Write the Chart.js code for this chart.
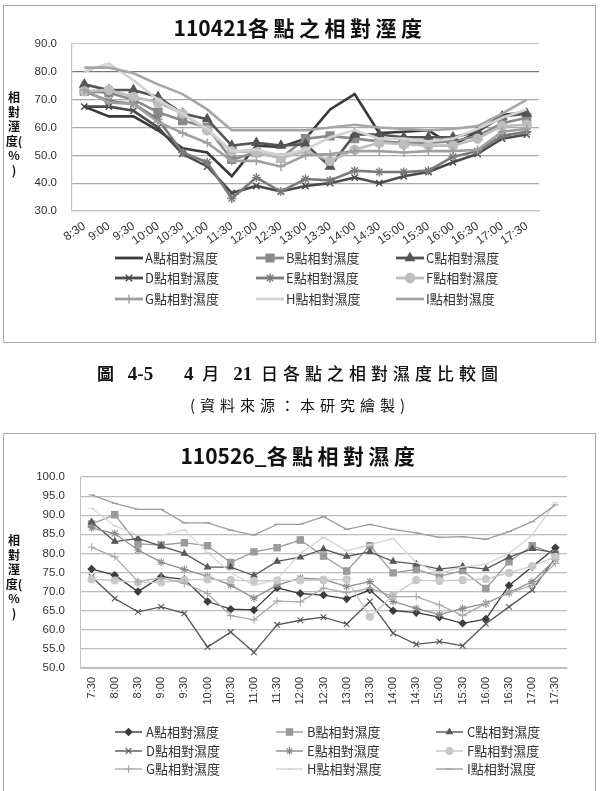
<!DOCTYPE html>
<html><head><meta charset="utf-8">
<script src="https://cdn.jsdelivr.net/npm/chart.js@4.4.1/dist/chart.umd.min.js"></script>
<style>
html,body{margin:0;padding:0;background:#fff;}
body{width:600px;height:791px;position:relative;overflow:hidden;font-family:"Noto Sans CJK TC","Noto Sans",sans-serif;}
.box{position:absolute;border:1px solid #a8a8a8;box-sizing:border-box;background:#fff;}
canvas{position:absolute;left:0;}
.title{position:absolute;left:0;width:600px;text-align:center;font-weight:bold;font-size:21px;line-height:24px;color:#111;white-space:nowrap;}
.title .cj{letter-spacing:4.5px;}
.ytitle{position:absolute;left:4px;width:20px;text-align:center;font-weight:bold;font-size:12px;line-height:14.5px;color:#111;white-space:nowrap;}
.cap{position:absolute;left:0;width:600px;text-align:center;white-space:pre;color:#111;}
.cap .n{font-family:"Liberation Serif",serif;font-weight:bold;letter-spacing:0;font-size:19px;}
</style></head>
<body>
<div class="box" style="left:3px;top:5px;width:593px;height:338px"></div>
<div class="box" style="left:3px;top:433px;width:593px;height:400px"></div>
<canvas id="c1" width="600" height="350" style="top:0;width:600px;height:350px"></canvas>
<canvas id="c2" width="600" height="371" style="top:420px;width:600px;height:371px"></canvas>
<div class="title" style="top:15px">110421<span class="cj">各點之相對溼度</span></div>
<div class="title" style="top:443px">110526_<span class="cj">各點相對濕度</span></div>
<div class="ytitle" style="top:90px">相<br>對<br>溼<br>度(<br>%<br>)</div>
<div class="ytitle" style="top:533px">相<br>對<br>溼<br>度(<br>%<br>)</div>
<div class="cap" style="top:361px;font-size:17px;line-height:24px;letter-spacing:5px;font-weight:500"><b>圖</b> <span class="n">4-5</span>　 <span class="n">4</span> 月 <span class="n">21</span> 日各點之相對濕度比較圖</div>
<div class="cap" style="top:394px;font-size:15px;line-height:22px;letter-spacing:5px;">(資料來源：本研究繪製)</div>
<script>
// ---- data ----
const times1 = ['8:30','9:00','9:30','10:00','10:30','11:00','11:30','12:00','12:30','13:00','13:30','14:00','14:30','15:00','15:30','16:00','16:30','17:00','17:30'];
const times2 = ['7:30','8:00','8:30','9:00','9:30','10:00','10:30','11:00','11:30','12:00','12:30','13:00','13:30','14:00','14:30','15:00','15:30','16:00','16:30','17:00','17:30'];
const seriesLabels = ['A點相對濕度','B點相對濕度','C點相對濕度','D點相對濕度','E點相對濕度','F點相對濕度','G點相對濕度','H點相對濕度','I點相對濕度'];
const yTicks1 = [30,40,50,60,70,80,90];
const yTicks2 = [50,55,60,65,70,75,80,85,90,95,100];

// 110421
const a1 = [67.5,64,64,59,52.5,51,42.5,53.5,53,56,66.5,72,58,58.5,59,53.5,58.5,64.5,65.5];
const b1 = [73,72.5,70,65.5,62.5,60,48.5,51,49,56,57,56,55,54.5,54.5,55,57,61.5,63.5];
const c1 = [75.5,73.5,73.5,71,65,63,53.5,54.5,53.5,54,46,57.5,57.5,56.5,56.5,56.5,58.5,64,65];
const d1 = [67.5,67.5,66,60,50.5,46,36.5,39,37,39,40,42,40,42.5,44,47.5,50.5,56,57.5];
const e1 = [73,69.5,68.5,63,51,47.5,34.5,42,37,41.5,41,44.5,44,44,44.5,49.5,51.5,57,58.5];
const f1 = [73,73.5,71,69,65,59,51.5,51,49,51.5,48,52,54.5,54,53.5,53.5,56,60.5,61];
const g1 = [73.5,69,68.5,62,58,54.5,48,48,46,50,50.5,51.5,51.5,51,51.5,51.5,52,58.5,59.5];
const h1 = [80,83,77,70,65,59.5,51.5,52,50,52,56.5,59,56,56,55,56,59.5,63.5,66.5];
const i1 = [81.5,81.5,79.5,75.5,72,66.5,59,59,59,59,60,61,60,59.5,59,59.5,60.5,65,70];

// 110526
const a2 = [75.9,74.3,70.0,73.9,73.2,67.4,65.4,65.2,71.0,69.5,69.1,68.1,70.4,65.0,64.5,63.3,61.7,62.8,71.6,76.5,81.5];
const b2 = [87.7,90.1,82.5,82.2,82.8,82.0,77.6,80.4,81.5,83.5,79.3,75.4,82.0,74.9,75.8,74.0,75.5,70.8,77.8,82.0,79.8];
const c2 = [88.2,83.1,83.9,81.9,80.0,76.4,76.4,74.2,77.9,79.0,81.1,79.2,80.4,77.9,77.2,75.9,76.6,75.9,79.0,81.2,80.2];
const d2 = [73.9,68.2,64.7,66.0,64.3,55.5,59.4,54.1,61.3,62.5,63.3,61.5,67.4,59.1,56.2,56.9,55.8,61.6,66.0,70.4,78.9];
const e2 = [86.7,85.2,80.9,77.7,75.8,74.0,71.7,68.3,71.7,73.5,73.2,71.3,72.6,67.4,65.6,64.0,65.6,66.9,69.7,72.6,78.4];
const f2 = [73.2,72.9,72.4,72.4,73.0,73.2,73.0,72.8,72.9,72.9,73.0,73.2,63.4,69.0,73.0,72.8,73.0,73.3,74.9,76.7,79.1];
const g2 = [81.6,79.1,72.6,73.6,72.2,69.5,63.7,62.6,67.5,67.3,70.9,69.7,70.9,68.7,68.7,66.5,63.7,66.9,69.7,71.6,77.4];
const h2 = [91.8,87.2,84.8,84.8,86.1,80.2,75.0,71.6,73.2,80.0,84.2,80.7,82.2,83.9,77.6,74.8,76.5,77.2,80.0,84.8,93.3];
const i2 = [95.3,93.1,91.5,91.5,88.0,88.0,86.1,84.8,87.6,87.6,89.6,86.3,87.6,86.3,85.4,84.2,84.4,83.7,85.7,88.3,92.7];

// ---- styles ----
const styles1 = [
  {color:'#3a3a3a', style:'circle',  r:0},
  {color:'#8a8a8a', style:'rect',    r:5.5},
  {color:'#555555', style:'triangle',r:5},
  {color:'#4a4a4a', style:'crossRot',r:4.5},
  {color:'#7a7a7a', style:'star',    r:4.5},
  {color:'#bdbdbd', style:'circle',  r:4.5},
  {color:'#a0a0a0', style:'cross',   r:4.5},
  {color:'#d2d2d2', style:'circle',  r:0},
  {color:'#a6a6a6', style:'circle',  r:0}
];
const styles2 = [
  {color:'#3c3c3c', style:'rectRot', r:3.5},
  {color:'#9a9a9a', style:'rect',    r:4.5},
  {color:'#585858', style:'triangle',r:3.5},
  {color:'#555555', style:'crossRot',r:4},
  {color:'#8c8c8c', style:'star',    r:4},
  {color:'#c8c8c8', style:'circle',  r:3.5},
  {color:'#aaaaaa', style:'cross',   r:4},
  {color:'#d5d5d5', style:'line',    r:3},
  {color:'#9c9c9c', style:'line',    r:3}
];

function drawMarker(ctx, style, x, y, r, color, bw){
  if (!r) return;
  ctx.save();
  ctx.fillStyle = color; ctx.strokeStyle = color; ctx.lineWidth = bw;
  if (Chart.helpers && Chart.helpers.drawPoint) {
    Chart.helpers.drawPoint(ctx, {pointStyle: style, radius: r, rotation: 0, borderWidth: bw}, x, y);
  }
  ctx.restore();
}

const legendGrid = {
  id: 'legendGrid',
  afterDraw(chart, args, o) {
    const ctx = chart.ctx;
    ctx.save();
    chart.data.datasets.forEach((ds, k) => {
      const x = o.cols[k % 3], y = o.rows[Math.floor(k / 3)];
      ctx.strokeStyle = ds.borderColor; ctx.lineWidth = o.lineWidth;
      ctx.beginPath(); ctx.moveTo(x, y); ctx.lineTo(x + o.sample, y); ctx.stroke();
      drawMarker(ctx, ds.pointStyle, x + o.sample / 2, y, ds.pointRadius, ds.borderColor, ds.pointBorderWidth);
      ctx.fillStyle = o.color; ctx.font = o.font; ctx.textBaseline = 'middle'; ctx.textAlign = 'left';
      ctx.fillText(ds.label, x + o.sample + o.gap, y + 0.5);
    });
    ctx.restore();
  }
};

function makeDatasets(values, styles, lw, pbw){
  return values.map((v, k) => ({
    label: seriesLabels[k], data: v,
    borderColor: styles[k].color, backgroundColor: styles[k].color,
    pointBackgroundColor: styles[k].color, pointBorderColor: styles[k].color,
    borderWidth: lw, pointStyle: styles[k].style, pointRadius: styles[k].r,
    pointBorderWidth: pbw, tension: 0, fill: false, order: values.length - 1 - k
  }));
}

const tickFont = {family: '"Liberation Sans", Arial, sans-serif', size: 11.5};

new Chart(document.getElementById('c1'), {
  type: 'line',
  data: {labels: times1, datasets: makeDatasets([a1,b1,c1,d1,e1,f1,g1,h1,i1], styles1, 2.6, 1.4)},
  options: {
    responsive: false, animation: false, devicePixelRatio: 1,
    layout: {padding: {top: 44, left: 0, right: 61, bottom: 0}},
    plugins: {legend: {display: false}, tooltip: {enabled: false},
      legendGrid: {cols: [115, 256, 396], rows: [258, 278, 299], sample: 28, gap: 2, lineWidth: 2.8,
        font: '13px "Noto Sans CJK TC"', color: '#333'}},
    scales: {
      x: {type: 'category', offset: true,
        grid: {display: false, drawTicks: false},
        border: {display: true, color: '#c4c4c4', width: 1.2},
        ticks: {autoSkip: false, minRotation: 35, maxRotation: 35, padding: 8, color: '#333',
          font: {family: tickFont.family, size: 12}},
        afterFit(s){ s.height = 139; }},
      y: {min: 30, max: 90,
        afterBuildTicks(s){ s.ticks = yTicks1.map(v => ({value: v})); },
        grid: {drawTicks: false, lineWidth: 1.3,
          color: c => c.tick.value === 80 ? '#7a7a7a' : (c.tick.value === 90 || c.tick.value === 30 ? '#cfcfcf' : '#a8a8a8')},
        border: {display: true, color: '#c4c4c4', width: 1.2},
        ticks: {padding: 15, color: '#333', font: tickFont, callback: v => Number(v).toFixed(1)},
        afterFit(s){ s.width = 72; }}
    }
  },
  plugins: [legendGrid]
});

new Chart(document.getElementById('c2'), {
  type: 'line',
  data: {labels: times2, datasets: makeDatasets([a2,b2,c2,d2,e2,f2,g2,h2,i2], styles2, 1.3, 1.1)},
  options: {
    responsive: false, animation: false, devicePixelRatio: 1,
    layout: {padding: {top: 57, left: 0, right: 33, bottom: 0}},
    plugins: {legend: {display: false}, tooltip: {enabled: false},
      legendGrid: {cols: [115, 276, 436], rows: [312, 331, 349], sample: 27, gap: 4, lineWidth: 1.4,
        font: '13px "Noto Sans CJK TC"', color: '#333'}},
    scales: {
      x: {type: 'category', offset: true,
        grid: {display: false, drawTicks: false},
        border: {display: true, color: '#c4c4c4', width: 1},
        ticks: {autoSkip: false, minRotation: 90, maxRotation: 90, padding: 9, color: '#333',
          font: {family: tickFont.family, size: 11}},
        afterFit(s){ s.height = 123; }},
      y: {min: 50, max: 100,
        afterBuildTicks(s){ s.ticks = yTicks2.map(v => ({value: v})); },
        grid: {drawTicks: false, lineWidth: 1.2, color: '#bdbdbd'},
        border: {display: true, color: '#c4c4c4', width: 1},
        ticks: {padding: 15, color: '#333', font: tickFont, callback: v => Number(v).toFixed(1)},
        afterFit(s){ s.width = 80; }}
    }
  },
  plugins: [legendGrid]
});
</script>
</body></html>
